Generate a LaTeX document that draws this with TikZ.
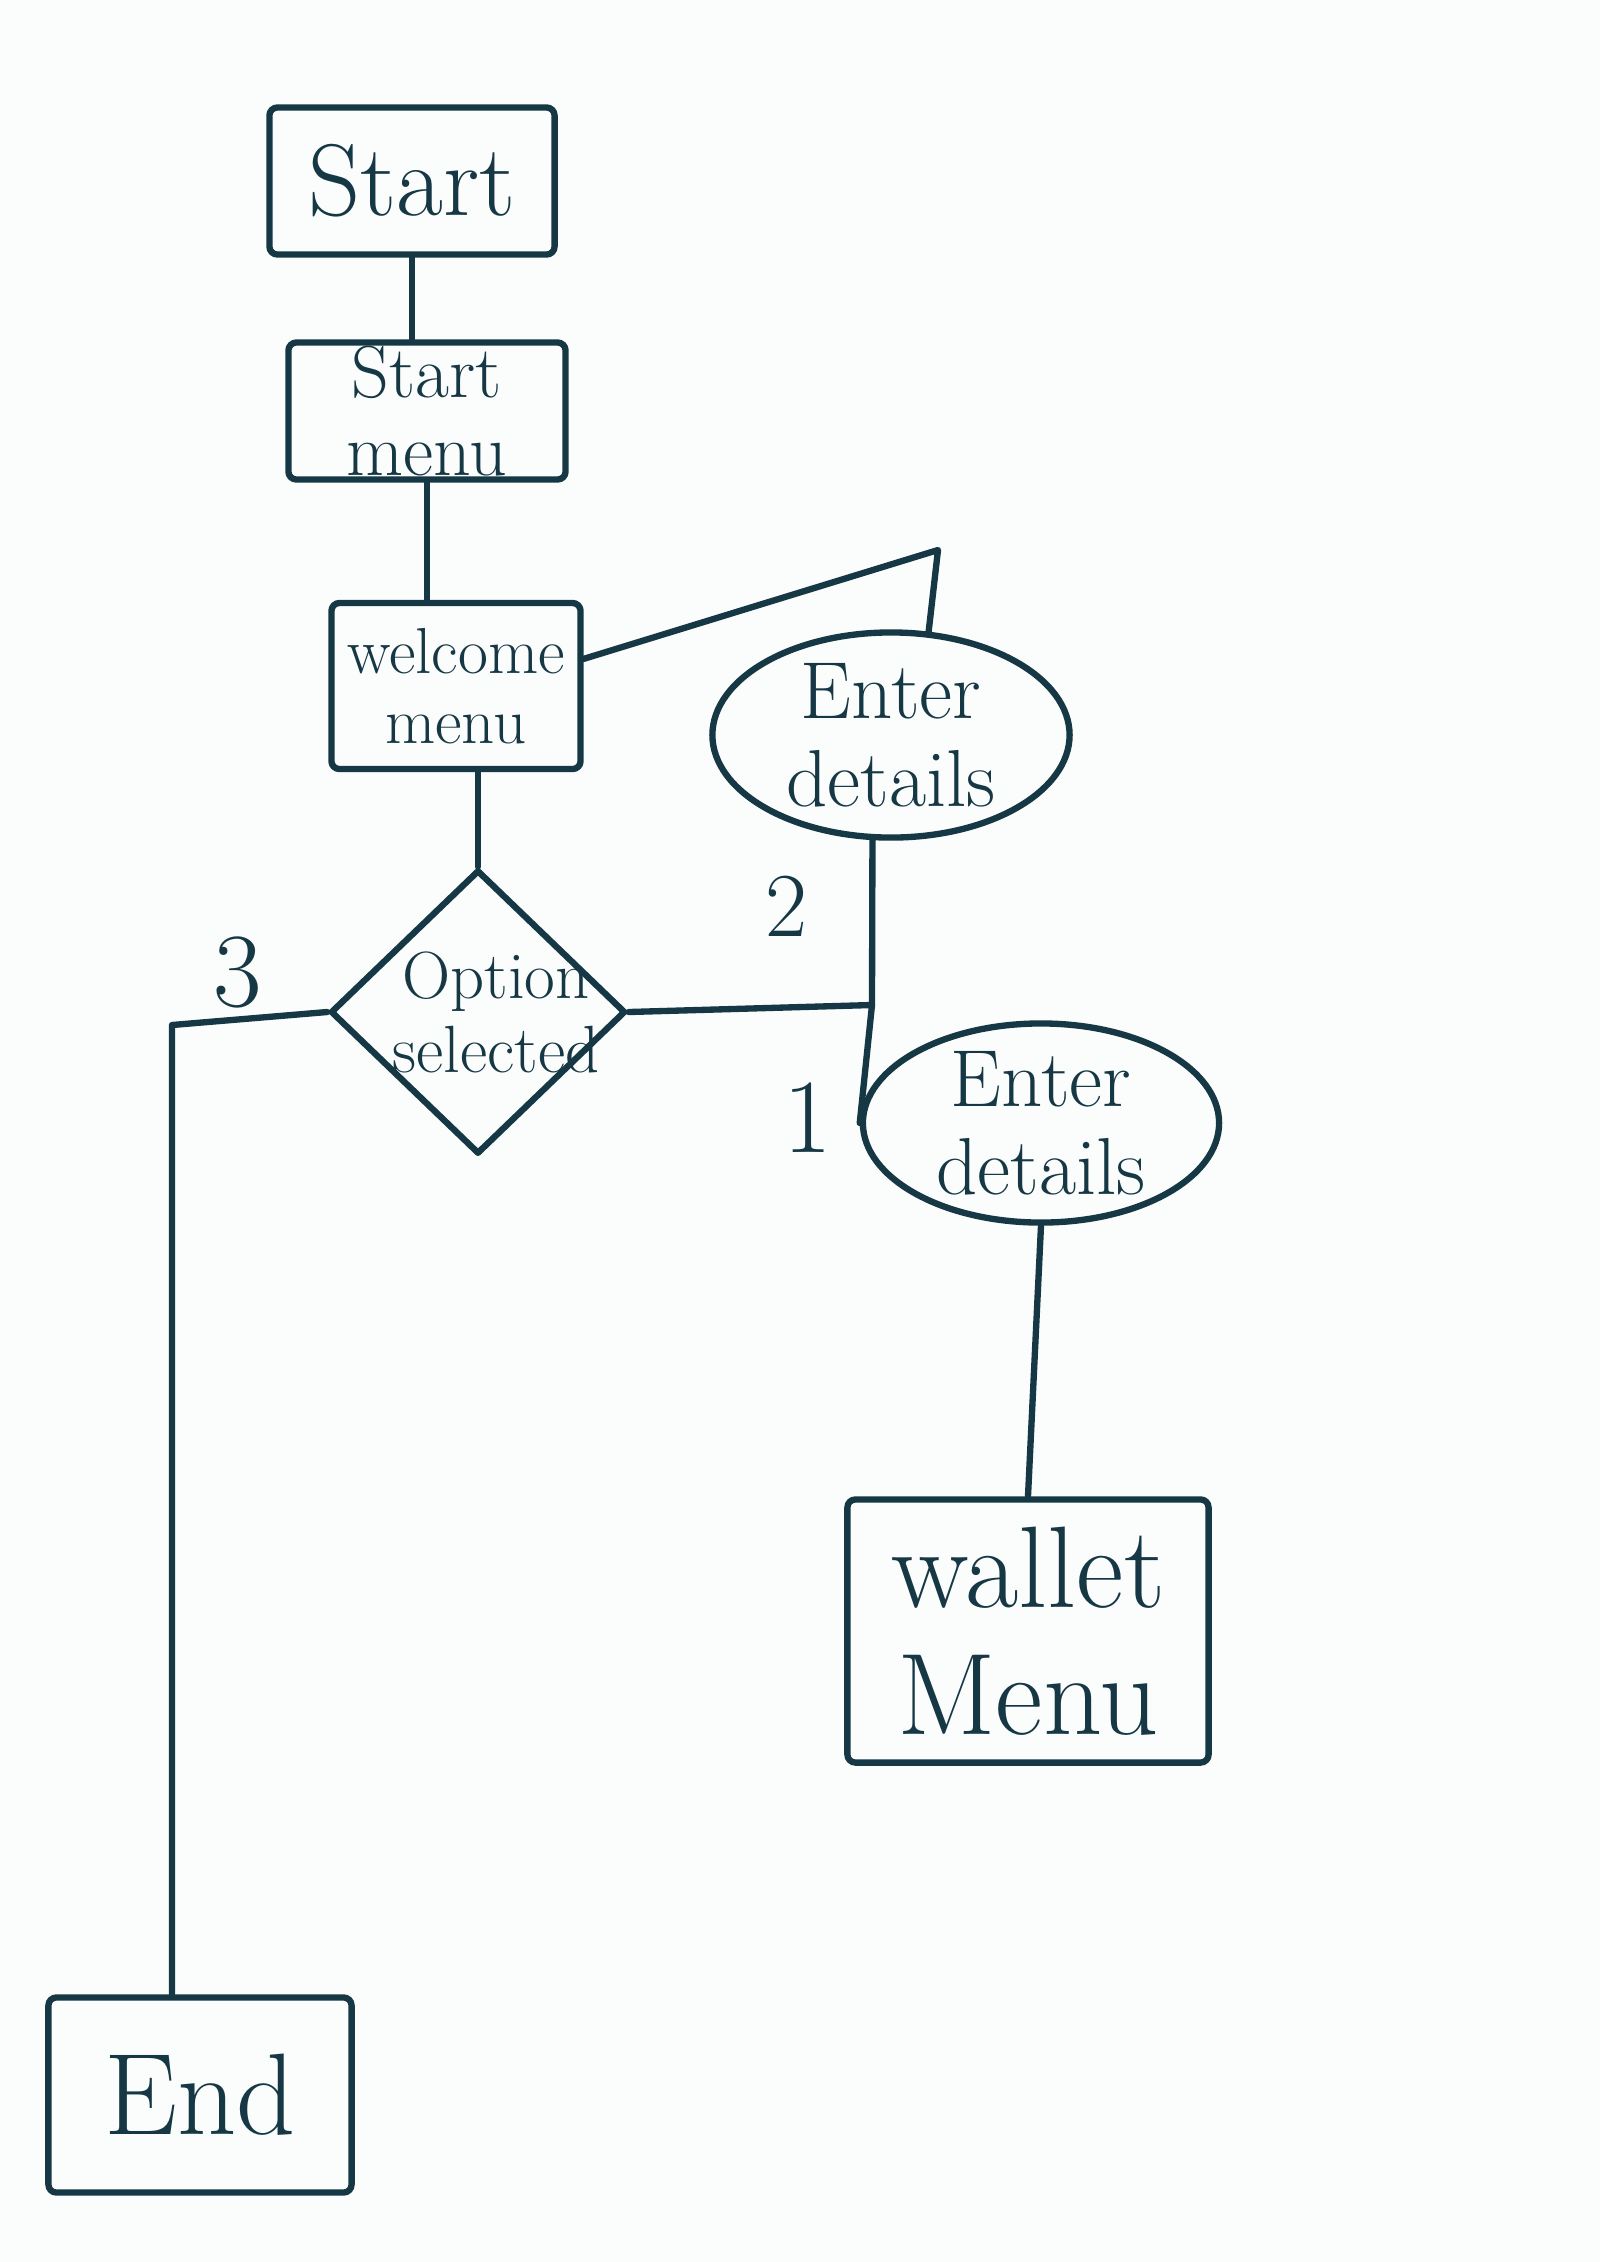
\documentclass[tikz,border=0pt]{standalone}
\usepackage{fontspec}
\usetikzlibrary{shapes.geometric}
\definecolor{ink}{HTML}{163845}
\definecolor{paper}{HTML}{FBFCFC}
\begin{document}
\begin{tikzpicture}[x=0.01cm,y=-0.01cm,
  inkline/.style={draw=ink, line width=1.8pt, line cap=round, line join=round},
  box/.style={inkline, rectangle, rounded corners=0.8mm, inner sep=0pt, text=ink, align=center},
  blob/.style={inkline, ellipse, inner xsep=0pt, inner ysep=-1.5mm, text=ink, align=center},
  choice/.style={inkline, diamond, inner sep=0pt},
  tag/.style={text=ink, inner sep=0pt},
  link/.style={inkline}
]
\fill[paper] (0,0) rectangle (1600,2262);
\useasboundingbox (0,0) rectangle (1600,2262);

% process boxes and decisions
\node[box, minimum width=2.85cm, minimum height=1.47cm, font=\fontsize{29}{30}\selectfont] (start) at (412,181) {Start};
\node[box, minimum width=2.77cm, minimum height=1.37cm, font=\fontsize{21}{22}\selectfont] (smenu) at (427,411) {Start\\menu};
\node[box, minimum width=2.49cm, minimum height=1.66cm, font=\fontsize{18.5}{20}\selectfont] (welcome) at (456,686) {welcome\\menu};
\node[blob, minimum width=3.57cm, minimum height=2.05cm, font=\fontsize{23}{25}\selectfont] (enter1) at (891,735) {Enter\\details};
\node[choice, minimum width=2.95cm, minimum height=2.84cm] (option) at (478,1012) {};
\node[text=ink, align=center, font=\fontsize{19}{21}\selectfont] (optiontext) at (496,1012) {Option\\selected};
\node[blob, minimum width=3.56cm, minimum height=1.99cm, font=\fontsize{23}{25}\selectfont] (enter2) at (1041,1123) {Enter\\details};
\node[box, minimum width=3.61cm, minimum height=2.63cm, font=\fontsize{33}{36}\selectfont] (wallet) at (1028,1631) {wallet\\Menu};
\node[box, minimum width=3.03cm, minimum height=1.95cm, font=\fontsize{33}{33}\selectfont] (end) at (200,2095) {End};

% branch numbers
\node[tag, font=\fontsize{30}{30}\selectfont] (three) at (238,972) {3};
\node[tag, font=\fontsize{26}{26}\selectfont] (two) at (786,906) {2};
\node[tag, font=\fontsize{30}{30}\selectfont] (one) at (808,1118) {1};

% connector waypoints
\coordinate (bend) at (938,550);
\coordinate (fork) at (872,1005);
\coordinate (leftturn) at (172,1025);

% connectors
\draw[link] (start.south) -- (start.south |- smenu.north);
\draw[link] (smenu.south) -- (smenu.south |- welcome.north);
\draw[link] (welcome.12) -- (bend) -- (enter1.70);
\draw[link] (option.north |- welcome.south) -- (option.north);
\draw[link] (option.west) -- (leftturn) -- (leftturn |- end.north);
\draw[link] (option.east) -- (fork);
\draw[link] (enter1.-100) -- (fork) -- (enter2.west);
\draw[link] (enter2.south) -- (wallet.north);
\end{tikzpicture}
\end{document}
